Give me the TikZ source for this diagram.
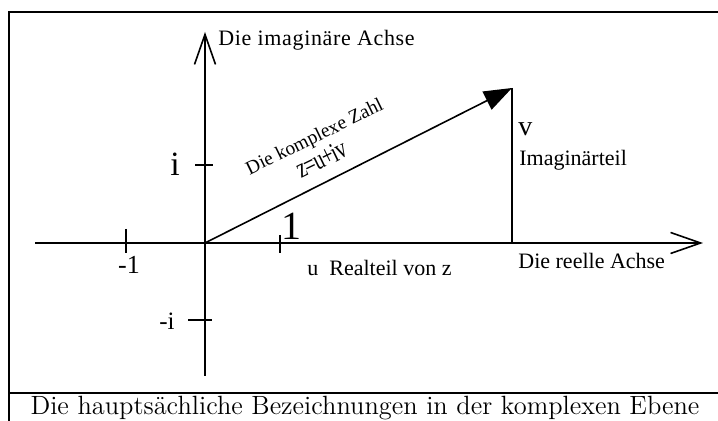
\documentclass[tikz,border=0pt]{standalone}
\usepackage{fontspec}
\usetikzlibrary{arrows.meta}
\newfontfamily\capfont{Latin Modern Roman}
\newfontfamily\lblfont{Liberation Serif}
\newfontfamily\tightfont{Liberation Serif}[FakeStretch=0.72,LetterSpace=-3]

\tikzset{
  axis/.style={line width=0.8pt, -{Straight Barb[length=15pt,width=10.5pt]}},
  tick/.style={line width=0.8pt},
  label/.style={inner sep=0pt, font=\lblfont\fontsize{11}{13}\selectfont},
}

\begin{document}
\begin{tikzpicture}[x=0.5pt,y=-0.5pt]
\useasboundingbox (0,0) rectangle (718,421);
% frame and caption line
\draw[line width=1pt] (718,12) -- (9,12) -- (9,421);
\draw[line width=1pt] (9,393) -- (718,393);
\node (caption) at (365,408) {\capfont\fontsize{13.2}{15}\selectfont Die hauptsächliche Bezeichnungen in der komplexen Ebene};

% axes
\coordinate (O) at (205,243);
\coordinate (xstart) at (35,243);
\coordinate (xend) at (703,243);
\coordinate (ybot) at (205,376);
\coordinate (ytop) at (205,32);
\draw[axis] (xstart) -- (xend);
\draw[axis] (ybot) -- (ytop);

% ticks
\draw[tick] (126,229) -- (126,253);
\draw[tick] (280,235) -- (280,253);
\draw[tick] (195,165) -- (213,165);
\draw[tick] (188,320) -- (212,320);

% the number z
\coordinate (Z) at (512,88);
\coordinate (Zfoot) at (512,243);
\draw[line width=0.8pt, -{Triangle[length=14pt,width=10pt]}] (O) -- (Z);
\draw[line width=0.8pt] (Z) -- (Zfoot);

% labels
\node[label, anchor=west, font=\lblfont\fontsize{11}{13}\selectfont\addfontfeatures{LetterSpace=3}] (imag) at (218,40) {Die imaginäre Achse};
\node[label, anchor=west] (real) at (518,261) {Die reelle Achse};
\node[label, anchor=west] (re) at (307,268) {u\ \ Realteil von z};
\node[label, anchor=west, font=\lblfont\fontsize{14}{16}\selectfont] (v) at (518,129) {v};
\node[label, anchor=west] (im) at (519,160) {Imaginärteil};
\node[label, font=\lblfont\fontsize{20}{22}\selectfont] (one) at (291,226) {1};
\node[label, font=\lblfont\fontsize{17}{19}\selectfont] (iunit) at (175,164) {i};
\node[label, font=\lblfont\fontsize{13}{15}\selectfont] (minusone) at (129,265) {-1};
\node[label, font=\lblfont\fontsize{12.5}{14}\selectfont] (minusi) at (167,321) {-i};
\node[label, rotate=26, font=\lblfont\fontsize{9.7}{11}\selectfont] (zahl) at (315,138) {Die komplexe Zahl};
\node[label, rotate=26, font=\tightfont\fontsize{14}{16}\selectfont] (zuv) at (321,159) {z=u+iv};
\end{tikzpicture}
\end{document}
